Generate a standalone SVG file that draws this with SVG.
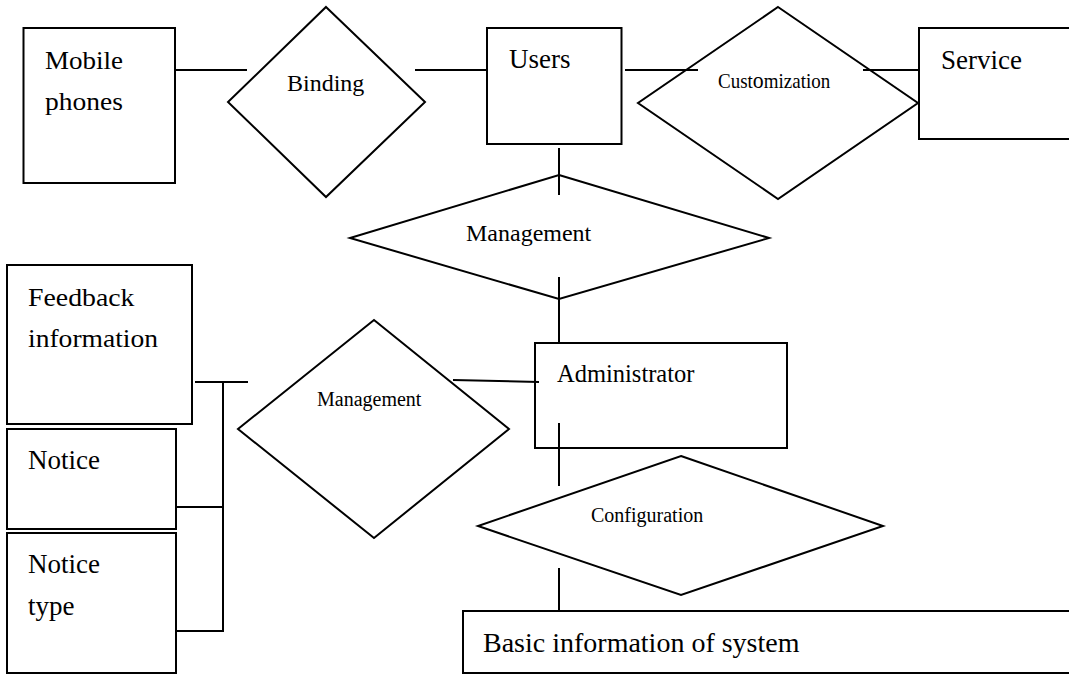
<svg xmlns="http://www.w3.org/2000/svg" width="1069" height="675" viewBox="0 0 1069 675">
<style>
.box{fill:#fff;stroke:#000;stroke-width:2}
.dia{fill:#fff;stroke:#000;stroke-width:2;stroke-linejoin:miter}
.ln{fill:none;stroke:#000;stroke-width:2}
text{font-family:'Liberation Serif','Times New Roman',serif;fill:#000}
</style>
<rect width="1069" height="675" fill="#fff"/>
<g id="mobile-phones">
<rect class="box" x="23.5" y="28" width="151.5" height="155"/>
<text transform="translate(45,69) scale(1.08,1)" font-size="25">Mobile</text>
<text transform="translate(45,110) scale(1.1,1)" font-size="25">phones</text>
</g>
<g id="binding">
<polygon class="dia" points="326,7 425,102 326,197 228,102"/>
<text x="287" y="91" font-size="24">Binding</text>
</g>
<g id="users">
<rect class="box" x="487" y="28" width="134.5" height="116"/>
<text x="509" y="68" font-size="27">Users</text>
</g>
<g id="customization">
<polygon class="dia" points="778,7 918,103 778,199 638,103"/>
<text transform="translate(718,88) scale(0.95,1)" font-size="20" fill="#222">Cust<tspan font-size="23">o</tspan>mization</text>
</g>
<g id="service">
<rect class="box" x="919" y="28" width="160" height="111"/>
<text x="941" y="69" font-size="27">Service</text>
</g>
<g id="management-top">
<polygon class="dia" points="559,175 769,238 559,299 350,238"/>
<text x="466" y="241" font-size="24">Management</text>
</g>
<g id="feedback-information">
<rect class="box" x="7" y="265" width="185" height="159"/>
<text transform="translate(28,306) scale(1.07,1)" font-size="26">Feedback</text>
<text transform="translate(28,347) scale(1.06,1)" font-size="26">information</text>
</g>
<g id="notice">
<rect class="box" x="7" y="429" width="169" height="100"/>
<text x="28" y="469" font-size="27">Notice</text>
</g>
<g id="notice-type">
<rect class="box" x="7" y="533" width="169" height="140"/>
<text x="28" y="573" font-size="27">Notice</text>
<text x="28" y="615" font-size="27">type</text>
</g>
<g id="management-left">
<polygon class="dia" points="374,320 509,429 374,538 238,429"/>
<text x="317" y="406" font-size="20">Management</text>
</g>
<g id="administrator">
<rect class="box" x="535" y="343" width="252" height="105"/>
<text transform="translate(557,382) scale(0.98,1)" font-size="25">Administrator</text>
</g>
<g id="configuration">
<polygon class="dia" points="681,456 883,526 681,595 478,526"/>
<text x="591" y="522" font-size="20">Configuration</text>
</g>
<g id="basic-information">
<rect class="box" x="463" y="611" width="620" height="62"/>
<text x="483" y="652" font-size="28">Basic information of system</text>
</g>
<g id="connectors">
<line class="ln" x1="175" y1="70" x2="247" y2="70"/>
<line class="ln" x1="415" y1="70" x2="487" y2="70"/>
<line class="ln" x1="625" y1="70" x2="698" y2="70"/>
<line class="ln" x1="863" y1="70" x2="919" y2="70"/>
<line class="ln" x1="559" y1="148" x2="559" y2="195"/>
<line class="ln" x1="559" y1="277" x2="559" y2="343"/>
<line class="ln" x1="453" y1="380" x2="539" y2="382"/>
<line class="ln" x1="559" y1="423" x2="559" y2="486"/>
<line class="ln" x1="559" y1="568" x2="559" y2="611"/>
<line class="ln" x1="195" y1="382" x2="248" y2="382"/>
<polyline class="ln" points="223,382 223,631 176,631"/>
<line class="ln" x1="176" y1="507" x2="223" y2="507"/>
</g>
</svg>
